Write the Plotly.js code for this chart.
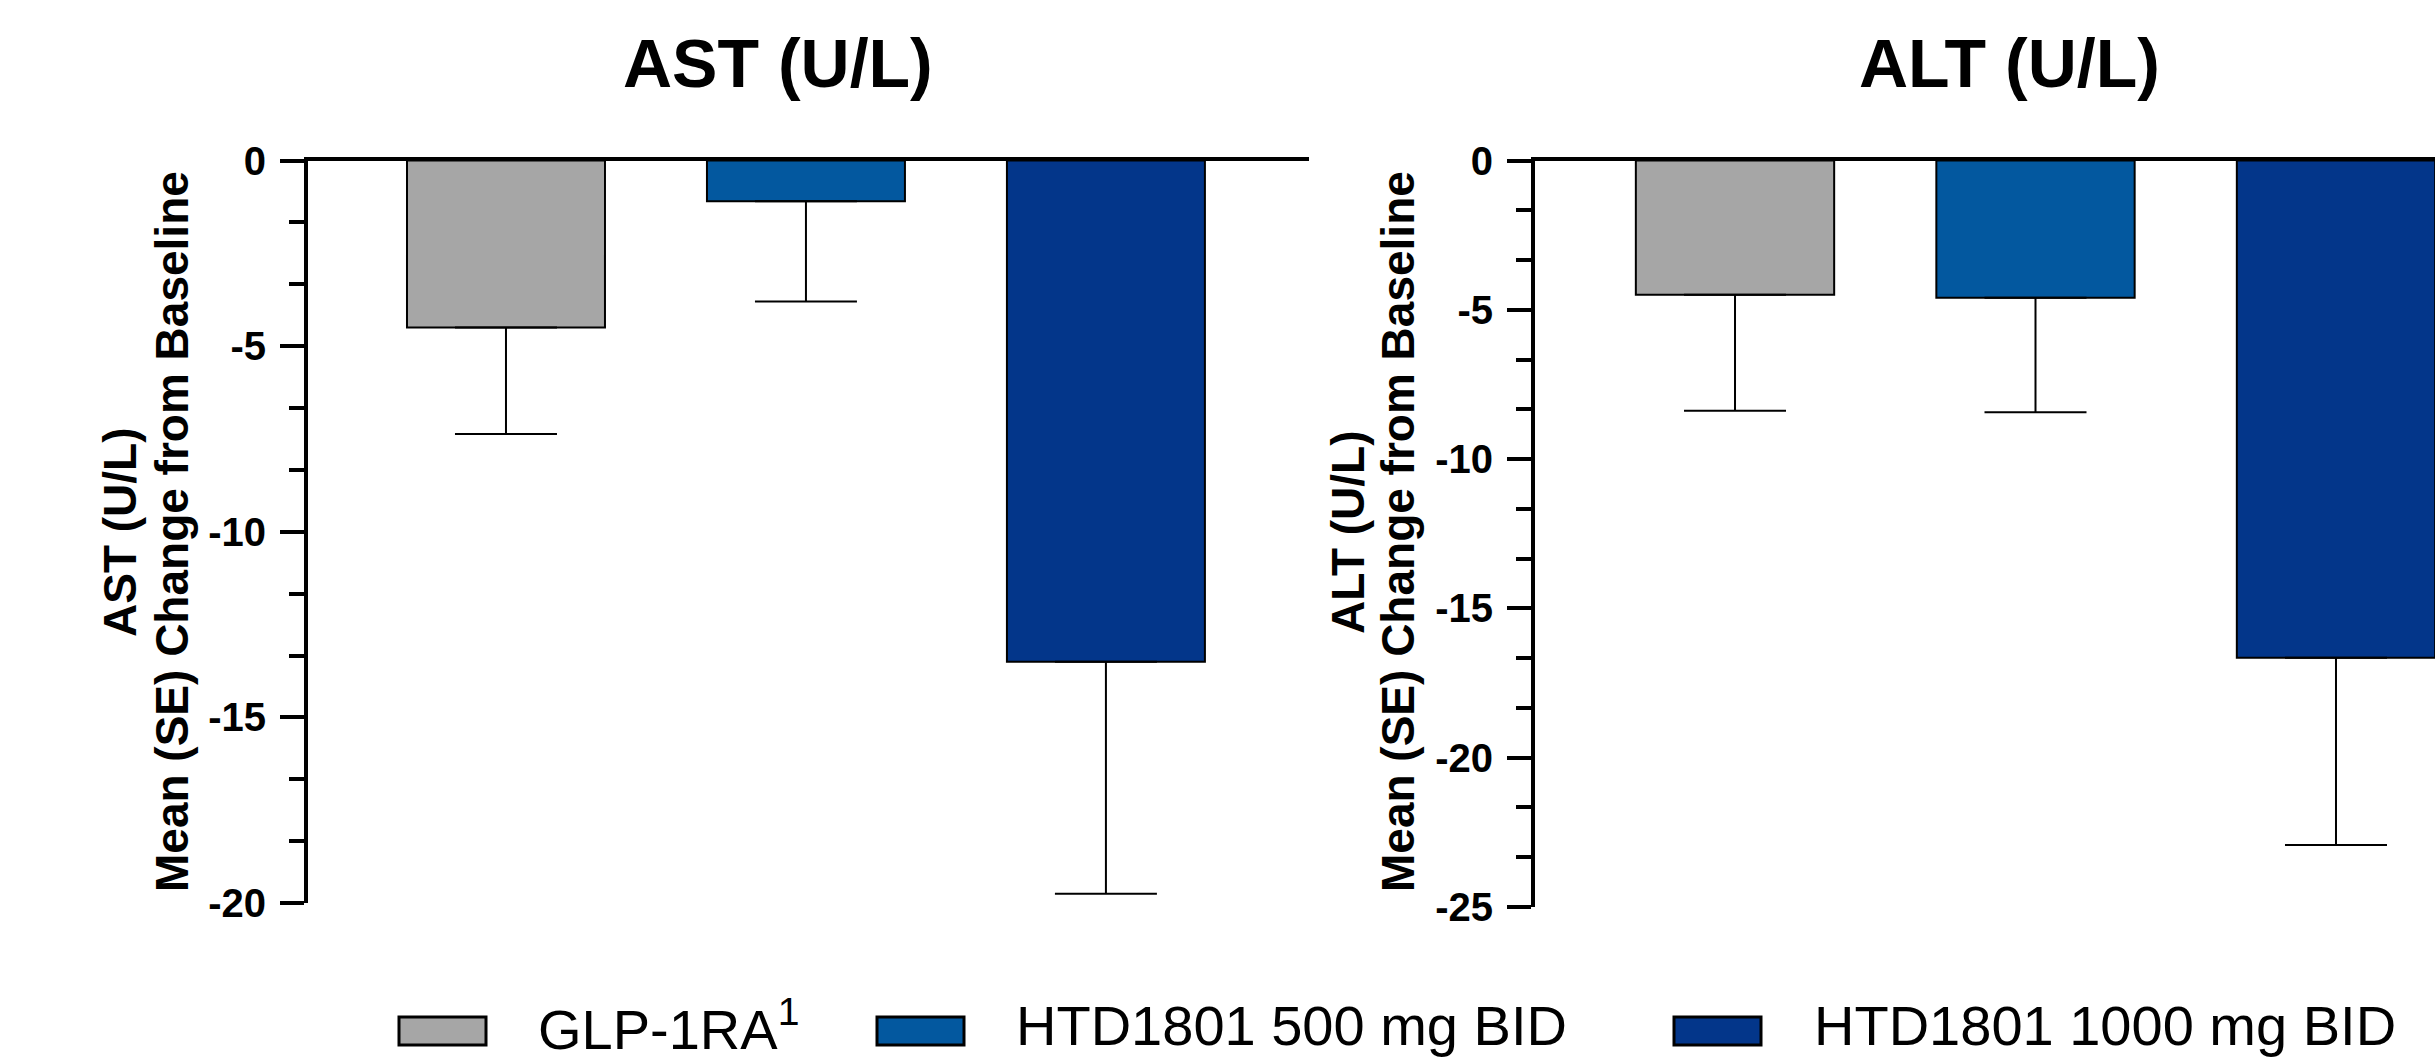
<!DOCTYPE html>
<html>
<head>
<meta charset="utf-8">
<script src="https://cdn.plot.ly/plotly-3.0.1.min.js"></script>
<style>
  html, body { margin: 0; padding: 0; background: #ffffff; }
  #chart { width: 2435px; height: 1060px; }
</style>
</head>
<body>
<div id="chart"></div>
<script>
// ---- Data ----
var groups = ['GLP-1RA', 'HTD1801 500 mg BID', 'HTD1801 1000 mg BID'];
var groupSup = ['1', '', ''];
var groupColors = ['#A6A6A6', '#03589F', '#03368A'];

var astMean = [-4.5, -1.1, -13.5];
var astSE = [2.87, 2.70, 6.25];

var altMean = [-4.5, -4.6, -16.65];
var altSE = [3.88, 3.83, 6.27];

var astTickVals = [0, -5, -10, -15, -20];
var astTickText = ['0', '-5', '-10', '-15', '-20'];
var altTickVals = [0, -5, -10, -15, -20, -25];
var altTickText = ['0', '-5', '-10', '-15', '-20', '-25'];

var panelTitles = ['AST (U/L)', 'ALT (U/L)'];
var yTitleLine1 = ['AST (U/L)', 'ALT (U/L)'];
var yTitleLine2 = 'Mean (SE) Change from Baseline';

// ---- Layout helpers ----
var W = 2435, H = 1060;
var FONT = '"Liberation Sans", Arial, Helvetica, sans-serif';
function px(x) { return x / W; }
function py(y) { return 1 - y / H; }

function zeros(n) { var a = []; for (var i = 0; i < n; i++) a.push(0); return a; }

function barTrace(means, ses, xa, ya) {
  return {
    type: 'bar',
    x: groups,
    y: means,
    xaxis: xa,
    yaxis: ya,
    width: 0.66,
    marker: { color: groupColors, line: { color: '#000000', width: 2 } },
    error_y: {
      type: 'data', symmetric: false,
      array: zeros(means.length), arrayminus: ses,
      color: '#000000', thickness: 2, width: 51
    },
    showlegend: false,
    hoverinfo: 'skip'
  };
}

var data = [
  barTrace(astMean, astSE, 'x', 'y'),
  barTrace(altMean, altSE, 'x2', 'y2')
];

function yAxis(domain, range, vals, text, anchor) {
  return {
    domain: domain, range: range, anchor: anchor,
    tickmode: 'array', tickvals: vals, ticktext: text,
    ticks: 'outside', ticklen: 24, tickwidth: 4, tickcolor: '#000000',
    showline: true, linewidth: 4, linecolor: '#000000',
    showgrid: false, zeroline: false, fixedrange: true,
    ticklabelstandoff: 6,
    tickfont: { family: FONT, size: 40, color: '#000000', weight: 700 },
    minor: { tickmode: 'linear', tick0: 0, dtick: 5 / 3, ticks: 'outside', ticklen: 15, tickwidth: 4, tickcolor: '#000000', showgrid: false }
  };
}

function xAxis(domain, range, anchor) {
  return {
    domain: domain, range: range, anchor: anchor, type: 'category',
    side: 'top', showline: true, linewidth: 4, linecolor: '#000000',
    ticks: '', showticklabels: false, showgrid: false, zeroline: false, fixedrange: true
  };
}

var annotations = [];
// panel titles
var titleX = [778, 2009];
for (var i = 0; i < 2; i++) {
  annotations.push({
    xref: 'paper', yref: 'paper', x: px(titleX[i]), y: py(63),
    xanchor: 'center', yanchor: 'middle', showarrow: false,
    text: '<b>' + panelTitles[i] + '</b>',
    font: { family: FONT, size: 68, color: '#000000' }
  });
}
// y axis titles (two lines each)
var yLine1X = [120, 1348];
var yLine2X = [172, 1398];
for (var j = 0; j < 2; j++) {
  annotations.push({
    xref: 'paper', yref: 'paper', x: px(yLine1X[j]), y: py(532),
    xanchor: 'center', yanchor: 'middle', showarrow: false, textangle: -90,
    text: '<b>' + yTitleLine1[j] + '</b>',
    font: { family: FONT, size: 46, color: '#000000' }
  });
  annotations.push({
    xref: 'paper', yref: 'paper', x: px(yLine2X[j]), y: py(532),
    xanchor: 'center', yanchor: 'middle', showarrow: false, textangle: -90,
    text: '<b>' + yTitleLine2 + '</b>',
    font: { family: FONT, size: 46, color: '#000000' }
  });
}

// legend (manual: wide rectangular keys)
var legBoxX = [[399, 486], [877, 964], [1674, 1761]];
var legTextX = [536, 1014, 1812];
var shapes = [];
for (var k = 0; k < groups.length; k++) {
  shapes.push({
    type: 'rect', xref: 'paper', yref: 'paper',
    x0: px(legBoxX[k][0]), x1: px(legBoxX[k][1]), y0: py(1045), y1: py(1017),
    fillcolor: groupColors[k], line: { color: '#000000', width: 3 }
  });
  annotations.push({
    xref: 'paper', yref: 'paper', x: px(legTextX[k]), y: py(1025),
    xanchor: 'left', yanchor: 'middle', showarrow: false,
    text: groups[k] + (groupSup[k] ? '<sup>' + groupSup[k] + '</sup>' : ''),
    font: { family: FONT, size: 56, color: '#000000' }
  });
}

var layout = {
  width: W, height: H,
  margin: { l: 0, r: 0, t: 0, b: 0, pad: 0 },
  paper_bgcolor: '#ffffff', plot_bgcolor: 'rgba(0,0,0,0)',
  showlegend: false,
  bargap: 0,
  xaxis: xAxis([px(308), px(1309)], [-0.66, 2.677], 'y'),
  yaxis: yAxis([py(903), py(160.5)], [-20, 0], astTickVals, astTickText, 'x'),
  xaxis2: xAxis([px(1535), 1], [-0.6656, 2.3295], 'y2'),
  yaxis2: yAxis([py(907), py(160.5)], [-25, 0], altTickVals, altTickText, 'x2'),
  annotations: annotations,
  shapes: shapes
};

Plotly.newPlot('chart', data, layout, { displayModeBar: false, staticPlot: true });
</script>
</body>
</html>
